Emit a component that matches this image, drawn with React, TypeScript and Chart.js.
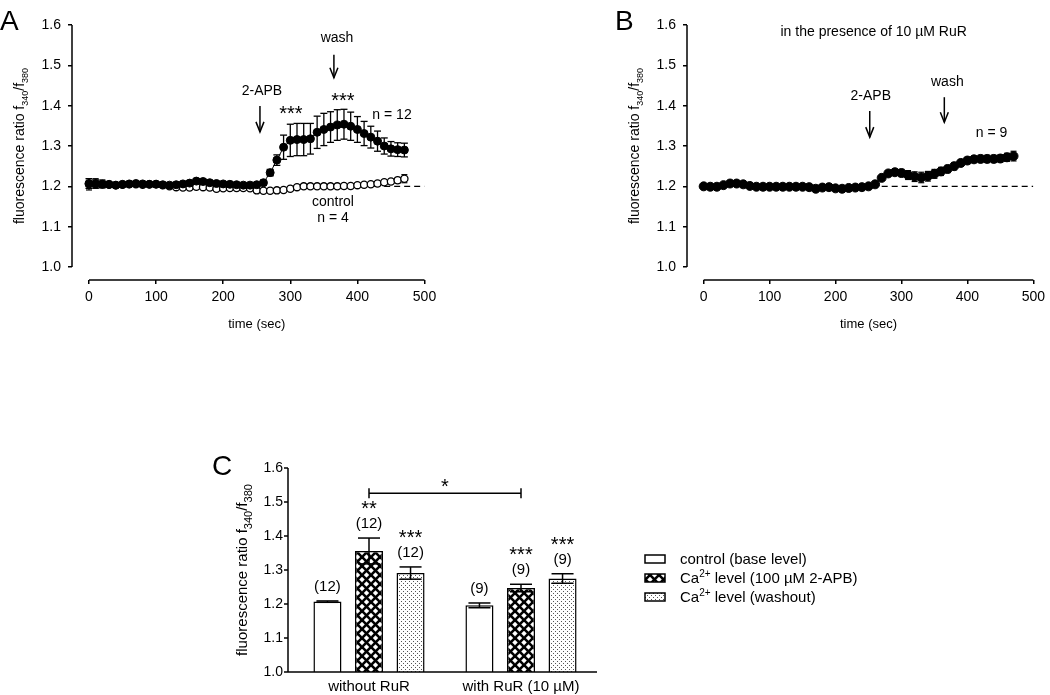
import React, { useEffect, useRef } from "react";
import { Chart, registerables } from "chart.js";
Chart.register(...registerables);

const FONT = '"Liberation Sans", Arial, Helvetica, sans-serif';

// ---------------- DATA ----------------
const timeSec = [0, 10, 20, 30, 40, 50, 60, 70, 80, 90, 100, 110, 120, 130, 140, 150, 160, 170, 180, 190, 200, 210, 220, 230, 240, 250, 260, 270, 280, 290, 300, 310, 320, 330, 340, 350, 360, 370, 380, 390, 400, 410, 420, 430, 440, 450, 460, 470];

// Panel A: 2-APB (filled) and control (open)
const aStim = [1.207, 1.206, 1.205, 1.205, 1.203, 1.205, 1.206, 1.207, 1.206, 1.205, 1.205, 1.204, 1.203, 1.204, 1.206, 1.208, 1.213, 1.212, 1.209, 1.207, 1.206, 1.205, 1.204, 1.203, 1.203, 1.204, 1.209, 1.234, 1.265, 1.297, 1.314, 1.316, 1.316, 1.318, 1.334, 1.341, 1.347, 1.352, 1.354, 1.349, 1.341, 1.331, 1.322, 1.312, 1.300, 1.293, 1.291, 1.290];
const aStimErr = [0.012, 0.010, 0.008, 0.005, 0.004, 0.004, 0.004, 0.004, 0.004, 0.004, 0.004, 0.004, 0.004, 0.004, 0.004, 0.004, 0.005, 0.005, 0.004, 0.004, 0.004, 0.004, 0.004, 0.004, 0.004, 0.004, 0.006, 0.008, 0.013, 0.030, 0.040, 0.040, 0.040, 0.038, 0.040, 0.040, 0.038, 0.038, 0.037, 0.035, 0.032, 0.030, 0.027, 0.025, 0.020, 0.018, 0.017, 0.017];
const aControl = [1.205, 1.207, 1.206, 1.204, 1.203, 1.204, 1.205, 1.205, 1.204, 1.205, 1.206, 1.203, 1.200, 1.198, 1.197, 1.197, 1.199, 1.198, 1.197, 1.194, 1.195, 1.196, 1.196, 1.196, 1.195, 1.190, 1.189, 1.189, 1.190, 1.191, 1.194, 1.198, 1.200, 1.200, 1.200, 1.200, 1.200, 1.200, 1.201, 1.201, 1.203, 1.204, 1.205, 1.207, 1.210, 1.212, 1.215, 1.219];
const aControlErr = [0.014, 0.012, 0.010, 0.004, 0.003, 0.003, 0.003, 0.003, 0.003, 0.003, 0.003, 0.003, 0.003, 0.003, 0.003, 0.003, 0.003, 0.003, 0.003, 0.003, 0.003, 0.003, 0.003, 0.003, 0.003, 0.003, 0.003, 0.003, 0.003, 0.003, 0.003, 0.003, 0.003, 0.003, 0.003, 0.003, 0.003, 0.003, 0.003, 0.003, 0.003, 0.003, 0.003, 0.004, 0.004, 0.005, 0.007, 0.010];
const aBaselineX = [425, 500];

// Panel B: 2-APB in the presence of RuR
const bStim = [1.200, 1.199, 1.199, 1.203, 1.207, 1.207, 1.205, 1.201, 1.199, 1.199, 1.199, 1.199, 1.199, 1.199, 1.199, 1.199, 1.198, 1.194, 1.197, 1.198, 1.195, 1.194, 1.196, 1.197, 1.198, 1.200, 1.205, 1.221, 1.232, 1.235, 1.233, 1.228, 1.224, 1.222, 1.225, 1.231, 1.237, 1.243, 1.250, 1.258, 1.264, 1.267, 1.268, 1.268, 1.268, 1.269, 1.272, 1.275];
const bStimErr = [0.003, 0.003, 0.003, 0.003, 0.003, 0.003, 0.003, 0.003, 0.003, 0.003, 0.003, 0.003, 0.003, 0.003, 0.003, 0.003, 0.003, 0.003, 0.003, 0.003, 0.003, 0.003, 0.003, 0.003, 0.003, 0.003, 0.004, 0.005, 0.006, 0.007, 0.009, 0.011, 0.012, 0.013, 0.012, 0.011, 0.010, 0.009, 0.009, 0.008, 0.008, 0.008, 0.009, 0.009, 0.009, 0.009, 0.010, 0.012];
const bBaselineX = [270, 500];
const baselineValue = 1.2;

const traceXTicks = [0, 100, 200, 300, 400, 500];
const traceYTicks = [1.0, 1.1, 1.2, 1.3, 1.4, 1.5, 1.6];

// Panel C: bar chart
const barGroups = ["without RuR", "with RuR (10 µM)"];
const barControl = [1.207, 1.196];
const barControlErr = [0.002, 0.007];
const barApb = [1.356, 1.247];
const barApbErr = [0.038, 0.011];
const barWash = [1.291, 1.275];
const barWashErr = [0.018, 0.014];
const barCounts = [["(12)", "(9)"], ["(12)", "(9)"], ["(12)", "(9)"]];
const barStars = [["", ""], ["**", "***"], ["***", "***"]];
const barYTicks = [1.0, 1.1, 1.2, 1.3, 1.4, 1.5, 1.6];
const bracketValue = 1.526;

// ---------------- HELPERS ----------------
type Part = [string, "n" | "sub" | "sup"];

function drawRich(ctx: CanvasRenderingContext2D, parts: Part[], x: number, y: number, size: number, small: number, align: "center" | "left") {
  ctx.textBaseline = "alphabetic";
  ctx.textAlign = "left";
  const widths = parts.map(([t, m]) => {
    ctx.font = `${m === "n" ? size : small}px ${FONT}`;
    return ctx.measureText(t).width;
  });
  const total = widths.reduce((a, b) => a + b, 0);
  let cx = align === "center" ? x - total / 2 : x;
  parts.forEach(([t, m], i) => {
    ctx.font = `${m === "n" ? size : small}px ${FONT}`;
    const dy = m === "sub" ? size * 0.3 : m === "sup" ? -size * 0.4 : 0;
    ctx.fillText(t, cx, y + dy);
    cx += widths[i];
  });
}

function text(ctx: CanvasRenderingContext2D, t: string, x: number, y: number, size: number, align: CanvasTextAlign = "center") {
  ctx.font = `${size}px ${FONT}`;
  ctx.textAlign = align;
  ctx.textBaseline = "middle";
  ctx.fillStyle = "#000";
  ctx.fillText(t, x, y);
}

function stars(ctx: CanvasRenderingContext2D, t: string, x: number, cy: number, size: number) {
  text(ctx, t, x, cy + size * 0.22, size);
}

function line(ctx: CanvasRenderingContext2D, x1: number, y1: number, x2: number, y2: number, w = 1.5) {
  ctx.beginPath();
  ctx.lineWidth = w;
  ctx.strokeStyle = "#000";
  ctx.moveTo(x1, y1);
  ctx.lineTo(x2, y2);
  ctx.stroke();
}

const yTitleParts: Part[] = [["fluorescence ratio f", "n"], ["340", "sub"], ["/f", "n"], ["380", "sub"]];

// ---------------- TRACE PANELS ----------------
const TRACE_X_MIN = -25.3;
const TRACE_Y_MIN = 0.9678;

type TracePanel = {
  letter: string;
  datasets: any[];
  errors: { values: number[]; errs: number[]; cap: number; width: number }[];
  texts: { t: string; x: number; y: number }[];
  starLabels: { t: string; x: number; y: number }[];
  arrows: { x: number; y1: number; y2: number }[];
  padRight: number;
};

function tracePlugin(p: TracePanel) {
  return {
    id: "traceExtras",
    beforeDatasetsDraw(chart: any) {
      const ctx = chart.ctx as CanvasRenderingContext2D;
      const xs = chart.scales.x, ys = chart.scales.y;
      ctx.save();
      p.errors.forEach((e) => {
        timeSec.forEach((t, i) => {
          const x = xs.getPixelForValue(t);
          const top = ys.getPixelForValue(e.values[i] + e.errs[i]);
          const bot = ys.getPixelForValue(e.values[i] - e.errs[i]);
          line(ctx, x, top, x, bot, e.width);
          line(ctx, x - e.cap, top, x + e.cap, top, e.width);
          line(ctx, x - e.cap, bot, x + e.cap, bot, e.width);
        });
      });
      ctx.restore();
    },
    afterDraw(chart: any) {
      const ctx = chart.ctx as CanvasRenderingContext2D;
      const xs = chart.scales.x, ys = chart.scales.y;
      const area = chart.chartArea;
      ctx.save();
      // axes
      line(ctx, area.left, ys.getPixelForValue(traceYTicks[0]), area.left, ys.getPixelForValue(traceYTicks[traceYTicks.length - 1]), 1.5);
      line(ctx, xs.getPixelForValue(traceXTicks[0]), area.bottom, xs.getPixelForValue(traceXTicks[traceXTicks.length - 1]), area.bottom, 1.5);
      // axis titles
      ctx.fillStyle = "#000";
      text(ctx, "time (sec)", xs.getPixelForValue(250), area.bottom + 44, 13);
      ctx.save();
      ctx.translate(23.5, (ys.getPixelForValue(1.0) + ys.getPixelForValue(1.6)) / 2);
      ctx.rotate(-Math.PI / 2);
      drawRich(ctx, yTitleParts, 0, 0, 14, 9, "center");
      ctx.restore();
      // panel letter
      ctx.font = `28px ${FONT}`;
      ctx.textAlign = "left";
      ctx.textBaseline = "alphabetic";
      ctx.fillText(p.letter, 0, 30);
      // annotations
      p.texts.forEach((a) => text(ctx, a.t, xs.getPixelForValue(a.x), ys.getPixelForValue(a.y), 14));
      p.starLabels.forEach((a) => stars(ctx, a.t, xs.getPixelForValue(a.x), ys.getPixelForValue(a.y), 20));
      p.arrows.forEach((a) => {
        const x = xs.getPixelForValue(a.x);
        const y1 = ys.getPixelForValue(a.y1);
        const y2 = ys.getPixelForValue(a.y2);
        line(ctx, x, y1, x, y2, 1.5);
        ctx.beginPath();
        ctx.lineWidth = 1.5;
        ctx.moveTo(x - 4, y2 - 10);
        ctx.lineTo(x, y2);
        ctx.lineTo(x + 4, y2 - 10);
        ctx.stroke();
      });
      ctx.restore();
    },
  };
}

function traceConfig(p: TracePanel): any {
  return {
    type: "line",
    data: { datasets: p.datasets },
    options: {
      animation: false,
      responsive: false,
      events: [],
      layout: { padding: { left: 0, top: 25, right: p.padRight, bottom: 0 } },
      plugins: { legend: { display: false }, tooltip: { enabled: false } },
      scales: {
        x: {
          type: "linear",
          min: TRACE_X_MIN,
          max: 500,
          afterBuildTicks: (s: any) => {
            s.ticks = traceXTicks.map((v) => ({ value: v }));
          },
          afterFit: (s: any) => {
            s.height = 65;
          },
          grid: { drawOnChartArea: false, drawTicks: true, tickLength: 4, color: "#000", lineWidth: 1.5 },
          border: { display: false },
          ticks: { color: "#000", font: { family: FONT, size: 14 }, padding: 5, maxRotation: 0, autoSkip: false, callback: (v: any) => String(v) },
        },
        y: {
          type: "linear",
          min: TRACE_Y_MIN,
          max: 1.6,
          afterBuildTicks: (s: any) => {
            s.ticks = traceYTicks.map((v) => ({ value: v }));
          },
          afterFit: (s: any) => {
            s.width = 72;
          },
          grid: { drawOnChartArea: false, drawTicks: true, tickLength: 4, color: "#000", lineWidth: 1.5 },
          border: { display: false },
          ticks: { color: "#000", font: { family: FONT, size: 14 }, padding: 7, autoSkip: false, callback: (v: any) => Number(v).toFixed(1) },
        },
      },
    },
    plugins: [tracePlugin(p)],
  };
}

const pts = (vals: number[]) => timeSec.map((t, i) => ({ x: t, y: vals[i] }));
const baseline = (xsArr: number[]) => xsArr.map((x) => ({ x, y: baselineValue }));

const panelA: TracePanel = {
  letter: "A",
  padRight: 25.5,
  datasets: [
    { data: pts(aStim), borderColor: "#000", borderWidth: 1, pointRadius: 4, pointBackgroundColor: "#000", pointBorderColor: "#000", pointBorderWidth: 1 },
    { data: pts(aControl), borderColor: "#000", borderWidth: 1, pointRadius: 3.6, pointBackgroundColor: "#fff", pointBorderColor: "#000", pointBorderWidth: 1.3 },
    { data: baseline(aBaselineX), borderColor: "#000", borderWidth: 1.2, borderDash: [6, 4], pointRadius: 0 },
  ],
  errors: [
    { values: aControl, errs: aControlErr, cap: 3, width: 1.2 },
    { values: aStim, errs: aStimErr, cap: 3.5, width: 1.3 },
  ],
  texts: [
    { t: "wash", x: 369.6, y: 1.568 },
    { t: "2-APB", x: 257.8, y: 1.436 },
    { t: "n = 12", x: 451.6, y: 1.377 },
    { t: "control", x: 363.6, y: 1.161 },
    { t: "n = 4", x: 363.6, y: 1.121 },
  ],
  starLabels: [
    { t: "***", x: 301, y: 1.389 },
    { t: "***", x: 378.5, y: 1.421 },
  ],
  arrows: [
    { x: 365, y1: 1.526, y2: 1.469 },
    { x: 254.8, y1: 1.399, y2: 1.335 },
  ],
};

const panelB: TracePanel = {
  letter: "B",
  padRight: 10.5,
  datasets: [
    { data: pts(bStim), borderColor: "#000", borderWidth: 1, pointRadius: 4.5, pointBackgroundColor: "#000", pointBorderColor: "#000", pointBorderWidth: 1 },
    { data: baseline(bBaselineX), borderColor: "#000", borderWidth: 1.2, borderDash: [6, 4], pointRadius: 0 },
  ],
  errors: [{ values: bStim, errs: bStimErr, cap: 3, width: 1.2 }],
  texts: [
    { t: "in the presence of 10 µM RuR", x: 257.8, y: 1.583 },
    { t: "wash", x: 369.6, y: 1.459 },
    { t: "2-APB", x: 253.4, y: 1.424 },
    { t: "n = 9", x: 436.7, y: 1.332 },
  ],
  starLabels: [],
  arrows: [
    { x: 365, y1: 1.421, y2: 1.359 },
    { x: 251.9, y1: 1.387, y2: 1.322 },
  ],
};

function TraceChart({ panel, left, width }: { panel: TracePanel; left: number; width: number }) {
  const ref = useRef<HTMLCanvasElement>(null);
  useEffect(() => {
    const chart = new Chart(ref.current as HTMLCanvasElement, traceConfig(panel));
    return () => chart.destroy();
  }, []);
  return <canvas ref={ref} width={width} height={345} style={{ position: "absolute", left, top: 0, width, height: 345 }} />;
}

// ---------------- BAR PANEL ----------------
function makeCross(): CanvasPattern | string {
  const P = 9;
  const c = document.createElement("canvas");
  c.width = P;
  c.height = P;
  const g = c.getContext("2d");
  if (!g) return "#000";
  g.fillStyle = "#fff";
  g.fillRect(0, 0, P, P);
  g.strokeStyle = "#000";
  g.lineWidth = 2.6;
  for (let k = -1; k <= 1; k++) {
    g.beginPath();
    g.moveTo(-2 + k * P, -2);
    g.lineTo(P + 2 + k * P, P + 2);
    g.stroke();
    g.beginPath();
    g.moveTo(P + 2 + k * P, -2);
    g.lineTo(-2 + k * P, P + 2);
    g.stroke();
  }
  return g.createPattern(c, "repeat") || "#000";
}

function makeDots(): CanvasPattern | string {
  const c = document.createElement("canvas");
  c.width = 4;
  c.height = 4;
  const g = c.getContext("2d");
  if (!g) return "#ccc";
  g.fillStyle = "#fff";
  g.fillRect(0, 0, 4, 4);
  g.fillStyle = "#555";
  g.fillRect(1, 1, 1, 1);
  g.fillRect(3, 3, 1, 1);
  return g.createPattern(c, "repeat") || "#ccc";
}

function BarChart() {
  const ref = useRef<HTMLCanvasElement>(null);
  useEffect(() => {
    const cross = makeCross();
    const dots = makeDots();
    const values = [barControl, barApb, barWash];
    const errs = [barControlErr, barApbErr, barWashErr];
    const fills: any[] = ["#fff", cross, dots];
    const legendItems: Part[][] = [
      [["control (base level)", "n"]],
      [["Ca", "n"], ["2+", "sup"], [" level (100 µM 2-APB)", "n"]],
      [["Ca", "n"], ["2+", "sup"], [" level (washout)", "n"]],
    ];
    const plugin = {
      id: "barExtras",
      afterDraw(chart: any) {
        const ctx = chart.ctx as CanvasRenderingContext2D;
        const ys = chart.scales.y;
        const area = chart.chartArea;
        const axisX = area.left - 5;
        ctx.save();
        // axes
        line(ctx, axisX, ys.getPixelForValue(1.0), axisX, ys.getPixelForValue(1.6), 1.5);
        line(ctx, axisX, area.bottom, area.right, area.bottom, 1.5);
        barYTicks.forEach((v) => {
          const y = ys.getPixelForValue(v);
          line(ctx, axisX - 4, y, axisX, y, 1.5);
        });
        // error bars & labels
        values.forEach((vals, di) => {
          const meta = chart.getDatasetMeta(di);
          vals.forEach((v, j) => {
            const x = meta.data[j].x;
            const top = ys.getPixelForValue(v + errs[di][j]);
            const bot = ys.getPixelForValue(v - errs[di][j]);
            line(ctx, x, top, x, bot, 1.5);
            line(ctx, x - 11, top, x + 11, top, 1.5);
            line(ctx, x - 11, bot, x + 11, bot, 1.5);
            const cy = top - 14;
            text(ctx, barCounts[di][j], x, cy, 15);
            if (barStars[di][j]) stars(ctx, barStars[di][j], x, cy - 19, 20);
          });
        });
        // bracket
        const m1 = chart.getDatasetMeta(1);
        const bx1 = m1.data[0].x;
        const bx2 = m1.data[1].x;
        const by = ys.getPixelForValue(bracketValue);
        line(ctx, bx1, by, bx2, by, 1.5);
        line(ctx, bx1, by - 5, bx1, by + 5, 1.5);
        line(ctx, bx2, by - 5, bx2, by + 5, 1.5);
        stars(ctx, "*", (bx1 + bx2) / 2, by - 10, 20);
        // y title
        ctx.save();
        ctx.translate(47, (ys.getPixelForValue(1.0) + ys.getPixelForValue(1.6)) / 2);
        ctx.rotate(-Math.PI / 2);
        ctx.fillStyle = "#000";
        drawRich(ctx, yTitleParts, 0, 0, 15, 11, "center");
        ctx.restore();
        // letter
        ctx.fillStyle = "#000";
        ctx.font = `28px ${FONT}`;
        ctx.textAlign = "left";
        ctx.textBaseline = "alphabetic";
        ctx.fillText("C", 12, 35);
        // legend
        legendItems.forEach((parts, i) => {
          const cy = 119 + i * 19;
          ctx.fillStyle = fills[i];
          ctx.fillRect(445, cy - 4, 20, 8);
          ctx.lineWidth = 1.5;
          ctx.strokeStyle = "#000";
          ctx.strokeRect(445, cy - 4, 20, 8);
          ctx.fillStyle = "#000";
          drawRich(ctx, parts, 480, cy + 5, 15, 10, "left");
        });
        ctx.restore();
      },
    };
    const mk = (i: number) => ({
      data: values[i],
      backgroundColor: fills[i],
      borderColor: "#000",
      borderWidth: 1.5,
      borderSkipped: false,
      categoryPercentage: 0.82,
      barPercentage: 0.675,
    });
    const chart = new Chart(ref.current as HTMLCanvasElement, {
      type: "bar",
      data: { labels: barGroups, datasets: [mk(0), mk(1), mk(2)] },
      options: {
        animation: false,
        responsive: false,
        events: [],
        layout: { padding: { left: 0, top: 28, right: 263, bottom: 0 } },
        plugins: { legend: { display: false }, tooltip: { enabled: false } },
        scales: {
          x: {
            grid: { display: false, drawTicks: false },
            border: { display: false },
            afterFit: (s: any) => {
              s.height = 22;
            },
            ticks: { color: "#000", font: { family: FONT, size: 15 }, padding: 6, maxRotation: 0, autoSkip: false },
          },
          y: {
            min: 1.0,
            max: 1.6,
            afterBuildTicks: (s: any) => {
              s.ticks = barYTicks.map((v) => ({ value: v }));
            },
            afterFit: (s: any) => {
              s.width = 93;
            },
            grid: { display: false, drawTicks: false },
            border: { display: false },
            ticks: { color: "#000", font: { family: FONT, size: 14 }, padding: 10, autoSkip: false, callback: (v: any) => Number(v).toFixed(1) },
          },
        },
      } as any,
      plugins: [plugin],
    } as any);
    return () => chart.destroy();
  }, []);
  return <canvas ref={ref} width={660} height={254} style={{ position: "absolute", left: 200, top: 440, width: 660, height: 254 }} />;
}

export default function App() {
  return (
    <div>
      <TraceChart panel={panelA} left={0} width={450} />
      <TraceChart panel={panelB} left={615} width={435} />
      <BarChart />
    </div>
  );
}
